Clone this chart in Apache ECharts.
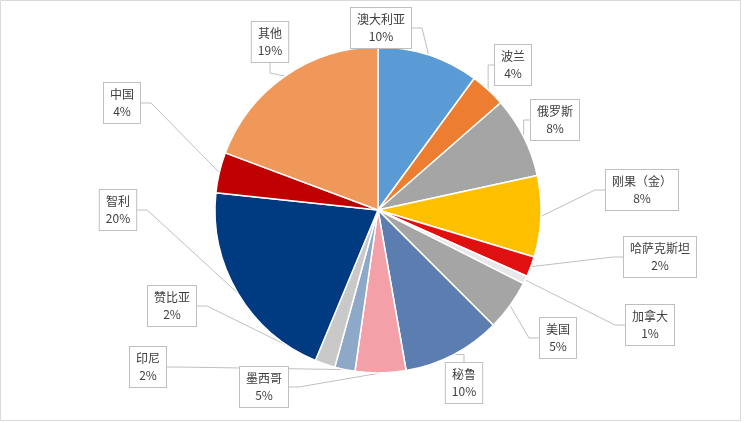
<!DOCTYPE html><html><head><meta charset="utf-8"><script src="https://cdn.jsdelivr.net/npm/echarts@6/dist/echarts.min.js"></script></head><body style="margin:0"><div id="c" style="width:755px;height:423px"></div><script>
const names=['澳大利亚','波兰','俄罗斯','刚果（金）','哈萨克斯坦','加拿大','美国','秘鲁','墨西哥','印尼','赞比亚','智利','中国','其他'];
const values=[10,3.5,8,8,2,0.8,5,9.7,5,2,2,20.3,4,19.2];
const pctLabels=['10%','4%','8%','8%','2%','1%','5%','10%','5%','2%','2%','20%','4%','19%'];
const colors=['#5B9BD5','#ED7D31','#A5A5A5','#FFC000','#E01010','#E8E8E8','#A5A5A5','#5B7DB0','#F4A0A8','#8EA9C8','#C9C9C9','#003A80','#C00000','#F0985A'];
const pos=[[381,28],[513,65],[555,120],[642,190],[660,257],[650,325],[558,338],[464,383],[264,387],[148,367],[172,306],[118,210],[122,103],[270,42]];
const ch=echarts.init(document.getElementById('c'));
ch.setOption({animation:false,
graphic:[{type:'rect',shape:{x:0.5,y:0.5,width:740,height:420},style:{fill:'none',stroke:'#D9D9D9'}}],
series:[{type:'pie',center:[378,210],radius:163,startAngle:90,clockwise:true,
data:names.map((n,i)=>({name:n,value:values[i],itemStyle:{color:colors[i]}})),
itemStyle:{borderColor:'#fff',borderWidth:1.5},
label:{formatter:p=>p.name+'\n'+pctLabels[p.dataIndex],fontSize:12,lineHeight:17,color:'#404040',align:'center',
 fontFamily:'Noto Sans CJK SC',backgroundColor:'#fff',borderColor:'#BFBFBF',borderWidth:1,padding:[3,6]},
labelLine:{lineStyle:{color:'#BFBFBF',width:1},length:10,length2:10},
labelLayout:p=>({x:pos[p.dataIndex][0],y:pos[p.dataIndex][1],align:'center',verticalAlign:'middle'})
}]});
</script></body></html>
